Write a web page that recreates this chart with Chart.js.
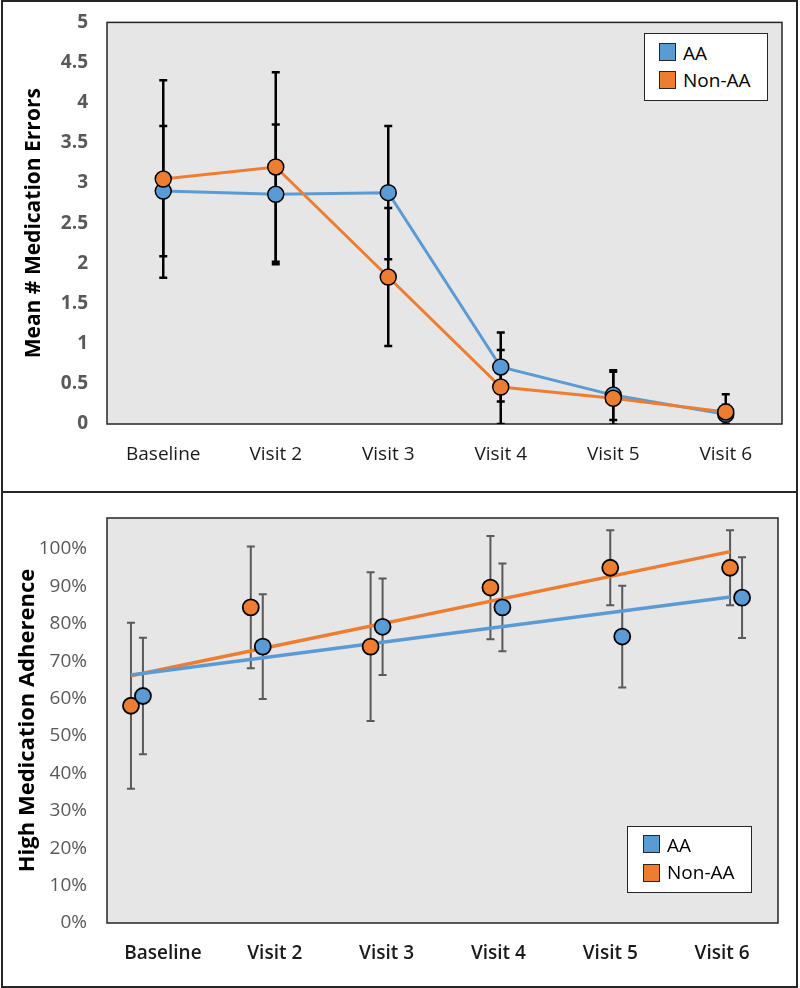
<!DOCTYPE html>
<html>
<head>
<meta charset="utf-8">
<script src="https://cdn.jsdelivr.net/npm/chart.js@4.4.1/dist/chart.umd.min.js"></script>
<style>
  html,body{margin:0;padding:0;background:#fff;}
  body{width:800px;height:988px;position:relative;overflow:hidden;font-family:'Open Sans',sans-serif;}
  .wrap{position:absolute;left:0;}
  #w1{top:0;width:800px;height:492px;}
  #w2{top:492px;width:800px;height:496px;}
  .frame{position:absolute;left:1px;top:0;width:797px;height:988px;border:2px solid #262626;box-sizing:border-box;pointer-events:none;}
  .divider{position:absolute;left:1px;top:491px;width:797px;height:2px;background:#262626;}
  .legend{position:absolute;background:#fff;border:1px solid #262626;box-sizing:border-box;font-size:19px;color:#000;}
  .legend .sw{position:absolute;width:17px;height:18px;border:1px solid #262626;box-sizing:border-box;}
  .legend .tx{position:absolute;line-height:20px;white-space:nowrap;}
</style>
</head>
<body>
<div class="wrap" id="w1"><canvas id="c1" width="800" height="492"></canvas></div>
<div class="wrap" id="w2"><canvas id="c2" width="800" height="496"></canvas></div>
<div class="frame"></div>
<div class="divider"></div>

<div class="legend" style="left:644px;top:33px;width:124px;height:68px;">
  <div class="sw" style="left:14px;top:9px;background:#5B9BD5"></div><div class="tx" style="left:38px;top:9px;">AA</div>
  <div class="sw" style="left:14px;top:37px;background:#ED7D31"></div><div class="tx" style="left:38px;top:36px;">Non-AA</div>
</div>
<div class="legend" style="left:627px;top:826px;width:125px;height:67px;">
  <div class="sw" style="left:15px;top:8px;background:#5B9BD5"></div><div class="tx" style="left:39px;top:8px;">AA</div>
  <div class="sw" style="left:15px;top:37px;background:#ED7D31"></div><div class="tx" style="left:39px;top:35px;">Non-AA</div>
</div>

<script>
// ---------- Data ----------
const categories = ['Baseline', 'Visit 2', 'Visit 3', 'Visit 4', 'Visit 5', 'Visit 6'];
const seriesNames = ['AA', 'Non-AA'];

// Top panel: mean # medication errors
const errorsAA      = [2.90, 2.86, 2.88, 0.71, 0.36, 0.12];
const errorsAA_sd   = [0.81, 0.87, 0.83, 0.43, 0.31, 0.12];
const errorsNonAA   = [3.05, 3.20, 1.83, 0.46, 0.32, 0.15];
const errorsNonAA_sd= [1.23, 1.18, 0.86, 0.46, 0.33, 0.22];
const errorTicks    = [0, 0.5, 1, 1.5, 2, 2.5, 3, 3.5, 4, 4.5, 5];

// Bottom panel: high medication adherence (proportion)
const adhAA        = [0.607, 0.739, 0.792, 0.844, 0.766, 0.870];
const adhAA_err    = [0.156, 0.140, 0.129, 0.117, 0.136, 0.108];
const adhNonAA     = [0.581, 0.844, 0.739, 0.897, 0.950, 0.950];
const adhNonAA_err = [0.222, 0.163, 0.199, 0.138, 0.100, 0.100];
const trendAA      = [0.663, 0.872];   // linear trendline, Baseline -> Visit 6
const trendNonAA   = [0.661, 0.993];
const adhTicks     = [0, 0.1, 0.2, 0.3, 0.4, 0.5, 0.6, 0.7, 0.8, 0.9, 1.0];

// ---------- Styles ----------
const BLUE = '#5B9BD5', ORANGE = '#ED7D31', PLOT_BG = '#E7E6E6';
const FONT = "'Open Sans', sans-serif";

// plot background, frame, error bars
const framePlugin = {
  id: 'plotFrame',
  beforeDatasetsDraw(chart) {
    const {ctx, chartArea: a} = chart;
    ctx.save();
    ctx.fillStyle = PLOT_BG;
    ctx.fillRect(a.left, a.top, a.right - a.left, a.bottom - a.top);
    ctx.strokeStyle = '#262626';
    ctx.lineWidth = 1.5;
    ctx.strokeRect(a.left, a.top, a.right - a.left, a.bottom - a.top);
    const o = chart.options.plugins.errbars || {};
    const ys = chart.scales.y;
    ctx.beginPath();
    ctx.rect(a.left, a.top - 1, a.right - a.left, a.bottom - a.top + 1);
    ctx.clip();
    ctx.strokeStyle = o.color || '#000';
    ctx.lineWidth = o.width || 2;
    const cap = o.cap || 4;
    chart.data.datasets.forEach((ds, i) => {
      if (!ds.errors) return;
      const meta = chart.getDatasetMeta(i);
      meta.data.forEach((pt, j) => {
        const v = typeof ds.data[j] === 'object' ? ds.data[j].y : ds.data[j];
        const e = ds.errors[j];
        const yt = ys.getPixelForValue(v + e), yb = ys.getPixelForValue(v - e);
        const x = pt.x;
        ctx.beginPath();
        ctx.moveTo(x, yt); ctx.lineTo(x, yb);
        ctx.moveTo(x - cap, yt); ctx.lineTo(x + cap, yt);
        ctx.moveTo(x - cap, yb); ctx.lineTo(x + cap, yb);
        ctx.stroke();
      });
    });
    ctx.restore();
  }
};

Chart.defaults.font.family = FONT;
Chart.defaults.animation = false;

// ---------- Top chart ----------
new Chart(document.getElementById('c1'), {
  type: 'line',
  data: {
    labels: categories,
    datasets: [
      { label: seriesNames[0], data: errorsAA, errors: errorsAA_sd, borderColor: BLUE, backgroundColor: BLUE,
        borderWidth: 3, pointRadius: 8, pointBorderWidth: 1.5, pointBorderColor: '#000', pointBackgroundColor: BLUE, order: 2, tension: 0 },
      { label: seriesNames[1], data: errorsNonAA, errors: errorsNonAA_sd, borderColor: ORANGE, backgroundColor: ORANGE,
        borderWidth: 3, pointRadius: 8, pointBorderWidth: 1.5, pointBorderColor: '#000', pointBackgroundColor: ORANGE, order: 1, tension: 0 }
    ]
  },
  options: {
    responsive: false,
    layout: { padding: { top: 22, right: 18, left: 0, bottom: 0 } },
    plugins: { legend: { display: false }, tooltip: { enabled: false }, errbars: { color: '#000', width: 2.5, cap: 4 } },
    scales: {
      x: {
        type: 'category', offset: true,
        grid: { display: false }, border: { display: false },
        ticks: { color: '#1a1a1a', font: { size: 19 }, padding: 11, maxRotation: 0 },
        afterFit(s) { s.height = 68; }
      },
      y: {
        min: 0, max: 5,
        afterBuildTicks(s) { s.ticks = errorTicks.map(v => ({ value: v })); },
        ticks: { color: '#595959', font: { size: 19, weight: 'bold' }, padding: 11, callback: v => String(v) },
        grid: { display: false }, border: { display: false },
        title: { display: true, text: 'Mean # Medication Errors', color: '#000', font: { size: 21, weight: 'bold' }, padding: { top: 21, bottom: 0 } },
        afterFit(s) { s.width = 107; }
      }
    }
  },
  plugins: [framePlugin]
});

// ---------- Bottom chart ----------
const pts = (arr, off) => arr.map((v, i) => ({ x: i + 1 + off, y: v }));
new Chart(document.getElementById('c2'), {
  type: 'scatter',
  data: {
    datasets: [
      { label: seriesNames[0], data: pts(adhAA, 0.1), errors: adhAA_err, backgroundColor: BLUE, borderColor: '#000',
        pointRadius: 8, borderWidth: 1.8, order: 1 },
      { label: seriesNames[1], data: pts(adhNonAA, 0), errors: adhNonAA_err, backgroundColor: ORANGE, borderColor: '#000',
        pointRadius: 8, borderWidth: 1.8, order: 2 },
      { label: 'AA trend', data: [{ x: 1, y: trendAA[0] }, { x: 6, y: trendAA[1] }], showLine: true, pointRadius: 0,
        borderColor: BLUE, borderWidth: 3.5, order: 3 },
      { label: 'Non-AA trend', data: [{ x: 1, y: trendNonAA[0] }, { x: 6, y: trendNonAA[1] }], showLine: true, pointRadius: 0,
        borderColor: ORANGE, borderWidth: 3.5, order: 4 }
    ]
  },
  options: {
    responsive: false,
    layout: { padding: { top: 26, right: 22, left: 0, bottom: 0 } },
    plugins: { legend: { display: false }, tooltip: { enabled: false }, errbars: { color: '#595959', width: 2, cap: 4 } },
    scales: {
      x: { type: 'linear', min: 0.8, max: 6.4, display: false },
      xc: {
        type: 'category', labels: categories, offset: true, position: 'bottom',
        grid: { display: false }, border: { display: false },
        ticks: { color: '#1a1a1a', font: { size: 19, weight: '600' }, padding: 11, maxRotation: 0 },
        afterFit(s) { s.height = 65; }
      },
      y: {
        min: 0, max: 1.083,
        afterBuildTicks(s) { s.ticks = adhTicks.map(v => ({ value: v })); },
        ticks: { color: '#595959', font: { size: 19 }, padding: 12, callback: v => Math.round(v * 100) + '%' },
        grid: { display: false }, border: { display: false },
        title: { display: true, text: 'High Medication Adherence', color: '#000', font: { size: 22, weight: 'bold' }, padding: { top: 15, bottom: 0 } },
        afterFit(s) { s.width = 107; }
      }
    }
  },
  plugins: [framePlugin]
});
</script>
</body>
</html>
